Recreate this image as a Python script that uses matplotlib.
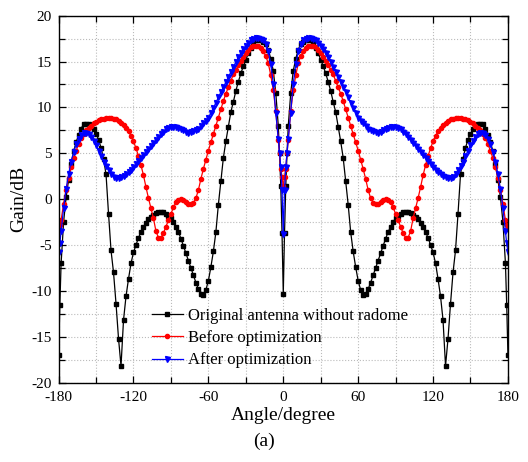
import numpy as np
import matplotlib
matplotlib.use('Agg')
import matplotlib.pyplot as plt
from matplotlib.ticker import MultipleLocator

plt.rcParams['font.family'] = ['Liberation Serif', 'DejaVu Serif']
plt.rcParams['axes.unicode_minus'] = False

# half pattern (0..180 deg), the measured pattern is symmetric about 0
angle_half = [0, 1, 2, 3, 4] + list(range(6, 179, 2)) + [179, 180]

gain_original = [
    -10.3, -3.7, 1.4, 5.0, 8.0,
    11.6, 14.0, 15.3, 16.3, 16.9, 17.15, 17.3, 17.35, 17.3, 17.0,
    16.5, 15.9, 15.2, 14.5, 13.7, 12.8, 11.8, 10.6, 9.5, 7.9,
    6.3, 4.5, 2.0, -0.6, -3.6, -5.7, -7.4, -8.9, -9.9, -10.5,
    -10.3, -9.8, -9.1, -8.3, -7.5, -6.7, -5.9, -5.1, -4.3, -3.6,
    -3.0, -2.5, -2.1, -1.8, -1.6, -1.45, -1.4, -1.4, -1.5, -1.7,
    -1.9, -2.2, -2.6, -3.05, -3.6, -4.2, -5.0, -5.8, -7.0, -8.7,
    -10.6, -13.2, -18.2, -15.2, -11.4, -8.0, -5.6, -1.6, 2.7, 4.4,
    5.6, 6.5, 7.1, 7.6, 7.95, 8.15, 8.2, 8.15, 7.7, 7.0,
    6.2, 5.2, 3.8, 2.1, 0.2, -2.5, -7.0,
    -11.5, -17.0,
]

gain_before = [
    1.4, 2.4, 3.3, 5.0, 6.5,
    9.6, 11.9, 13.5, 14.8, 15.6, 16.1, 16.45, 16.65, 16.7, 16.7,
    16.55, 16.3, 15.9, 15.5, 15.1, 14.6, 14.1, 13.6, 12.9, 12.2,
    11.5, 10.7, 9.8, 8.9, 8.0, 7.1, 6.2, 5.3, 4.3, 3.3,
    2.2, 1.0, 0.1, -0.4, -0.55, -0.5, -0.3, -0.1, 0.0, -0.1,
    -0.35, -0.9, -1.6, -2.3, -3.0, -3.7, -4.2, -4.2, -3.5, -2.1,
    -1.0, 0.1, 1.3, 2.6, 3.7, 4.7, 5.55, 6.3, 6.9, 7.4,
    7.8, 8.1, 8.35, 8.55, 8.7, 8.75, 8.8, 8.8, 8.8, 8.78,
    8.7, 8.6, 8.45, 8.25, 8.0, 7.75, 7.5, 7.15, 6.65, 6.0,
    5.25, 4.45, 3.45, 2.3, 1.0, -0.5, -2.3,
    -2.8, -3.1,
]

gain_after = [
    -3.8, 1.0, 3.5, 5.0, 6.6,
    9.4, 12.6, 14.7, 16.1, 16.9, 17.3, 17.5, 17.6, 17.6, 17.5,
    17.3, 17.0, 16.7, 16.35, 15.9, 15.45, 14.95, 14.4, 13.85, 13.3,
    12.75, 12.2, 11.65, 11.1, 10.5, 9.95, 9.4, 8.9, 8.55, 8.25,
    7.95, 7.7, 7.5, 7.38, 7.28, 7.25, 7.35, 7.5, 7.68, 7.8,
    7.88, 7.9, 7.88, 7.8, 7.62, 7.35, 7.05, 6.75, 6.45, 6.1,
    5.8, 5.45, 5.1, 4.8, 4.5, 4.15, 3.8, 3.5, 3.2, 2.95,
    2.75, 2.55, 2.4, 2.25, 2.3, 2.45, 2.75, 3.15, 3.6, 4.1,
    4.65, 5.3, 5.85, 6.35, 6.8, 7.1, 7.25, 7.2, 7.0, 6.6,
    6.0, 5.1, 4.1, 2.7, 1.1, -1.0, -3.5,
    -4.8, -5.8,
]

labels = ['Original antenna without radome', 'Before optimization', 'After optimization']


def mirror(a, sign=1):
    a = np.asarray(a, dtype=float)
    return np.concatenate([sign * a[:0:-1], a])


angle = mirror(angle_half, sign=-1)

fig = plt.figure(figsize=(5.28, 4.62), dpi=100)
ax = fig.add_axes([0.111, 0.172, 0.851, 0.794])

ax.plot(angle, mirror(gain_original), color='black', lw=0.9, marker='s', ms=3.0,
        label=labels[0])
ax.plot(angle, mirror(gain_before), color='red', lw=0.9, marker='o', ms=3.0,
        label=labels[1])
ax.plot(angle, mirror(gain_after), color='blue', lw=0.9, marker='v', ms=3.6,
        label=labels[2])

ax.set_xlim(-180, 180)
ax.set_ylim(-20, 20)
ax.xaxis.set_major_locator(MultipleLocator(60))
ax.xaxis.set_minor_locator(MultipleLocator(30))
ax.yaxis.set_major_locator(MultipleLocator(5))
ax.yaxis.set_minor_locator(MultipleLocator(2.5))
ax.tick_params(which='both', direction='in', top=True, right=True, labelsize=11)
ax.tick_params(axis='x', pad=6)
ax.tick_params(axis='y', pad=5)
ax.tick_params(which='major', length=5, width=0.9)
ax.tick_params(which='minor', length=4, width=0.9)
ax.grid(True, which='both', color='#bbbbbb', linestyle=':', linewidth=0.8)
ax.set_axisbelow(True)
for s in ax.spines.values():
    s.set_linewidth(1.0)

ax.set_xlabel('Angle/degree', fontsize=14, labelpad=2)
ax.set_ylabel('Gain/dB', fontsize=14, labelpad=3)

ax.legend(loc='upper left', bbox_to_anchor=(0.207, 0.204), frameon=False,
          fontsize=12, handlelength=1.9, handletextpad=0.3, labelspacing=0.38,
          borderpad=0, borderaxespad=0)

fig.text(0.5, 0.045, '(a)', ha='center', va='center', fontsize=14)

fig.savefig('out.png', dpi=100)
